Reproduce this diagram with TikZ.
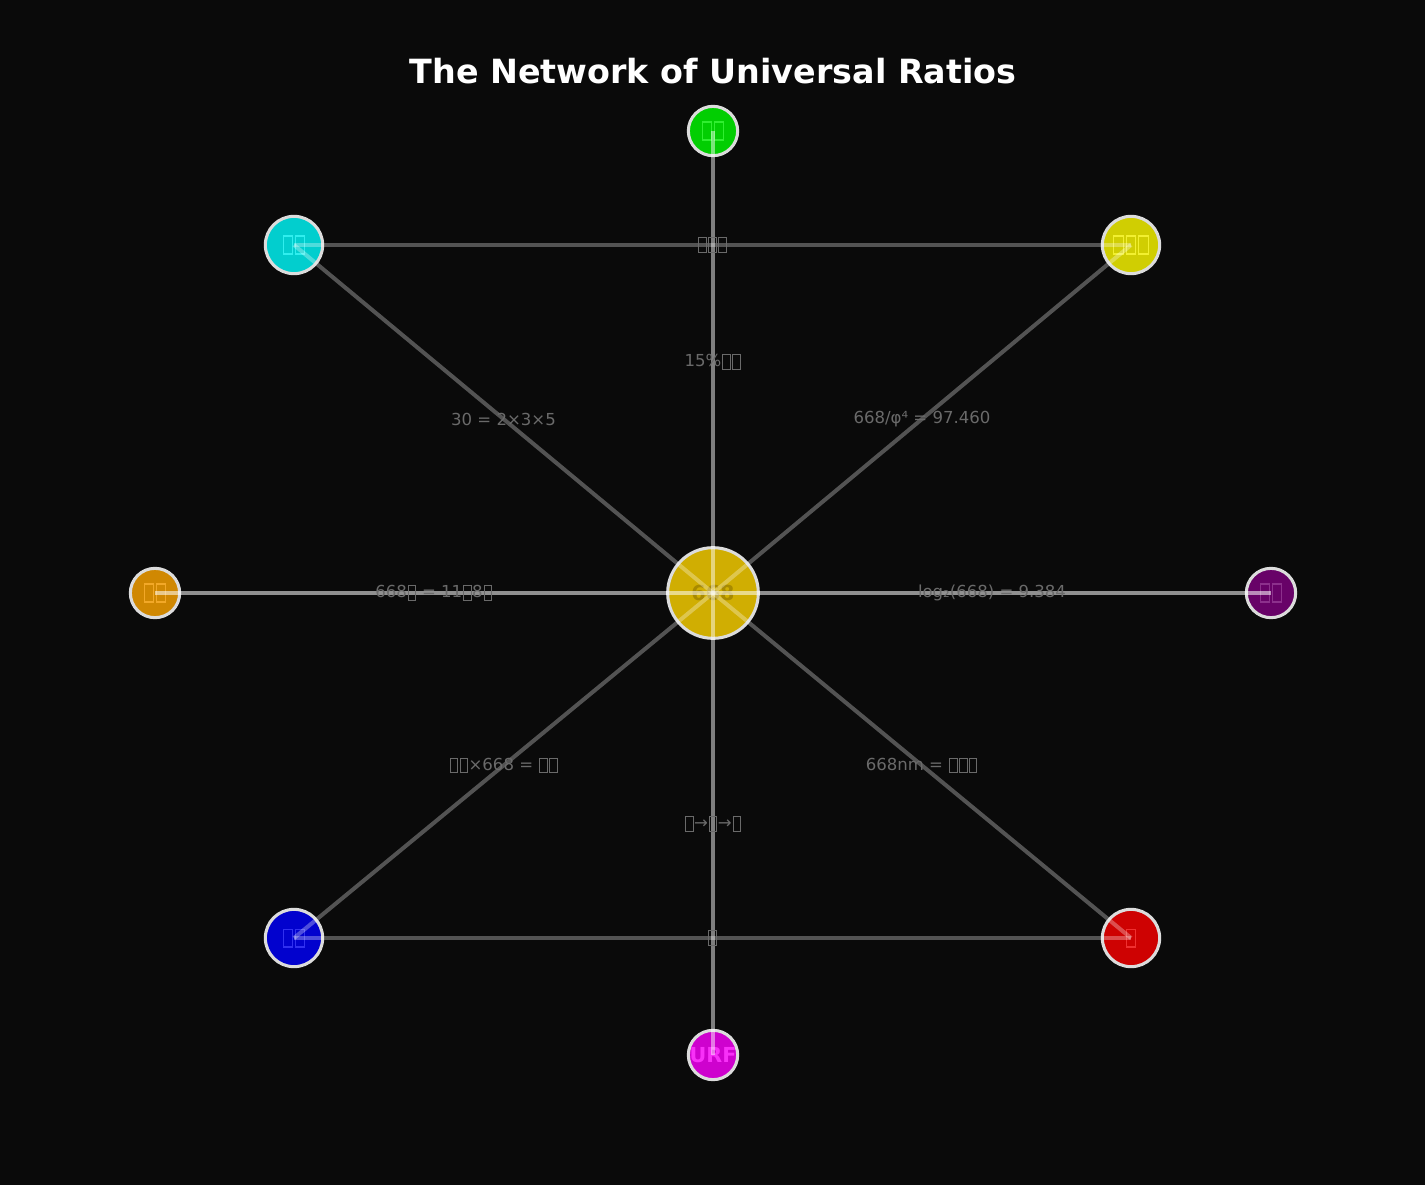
\documentclass[tikz,border=0pt]{standalone}
\usepackage{fontspec}
\setmainfont{DejaVu Sans}
\newcommand\tofu{\makebox[0.6em]{\rule[-0.18em]{0.05em}{0.92em}\rule[-0.18em]{0.4em}{0.05em}\hspace{-0.4em}\rule[0.69em]{0.4em}{0.05em}\rule[-0.18em]{0.05em}{0.92em}}}
\definecolor{bgc}{HTML}{0A0A0A}
\definecolor{ringc}{HTML}{DCDCDC}
\definecolor{elc}{HTML}{6A6A6A}
\definecolor{fgreen}{HTML}{02CE02}\definecolor{tgreen}{HTML}{30EE30}
\definecolor{fcyan}{HTML}{02CECE}\definecolor{tcyan}{HTML}{30EEEE}
\definecolor{fyellow}{HTML}{D0CE02}\definecolor{tyellow}{HTML}{F2F030}
\definecolor{forange}{HTML}{D08802}\definecolor{torange}{HTML}{F2A828}
\definecolor{fpurple}{HTML}{680268}\definecolor{tpurple}{HTML}{8C308C}
\definecolor{fblue}{HTML}{0202CE}\definecolor{tblue}{HTML}{3030F0}
\definecolor{fred}{HTML}{CE0202}\definecolor{tred}{HTML}{F03030}
\definecolor{fmag}{HTML}{CE02CE}\definecolor{tmag}{HTML}{F830F8}
\definecolor{fgold}{HTML}{D0AE02}\definecolor{tgold}{HTML}{A88A00}
\tikzset{
  vnode/.style={circle, draw=ringc, line width=2.3pt, inner sep=0pt,
    font=\bfseries\fontsize{15.5}{18}\selectfont},
  bignode/.style={vnode, minimum size=68pt},
  outerL/.style={vnode, minimum size=43pt},
  outerS/.style={vnode, minimum size=37pt},
  edge/.style={draw=white, line width=3pt, draw opacity=0.30},
  edgemid/.style={draw=white, line width=2.6pt, draw opacity=0.48},
  edgehor/.style={draw=white, line width=3pt, draw opacity=0.55},
  elabel/.style={text=elc, font=\fontsize{12.4}{15}\selectfont, inner sep=0pt},
  titlestyle/.style={text=white, font=\bfseries\fontsize{25}{30}\selectfont}
}
\begin{document}
\begin{tikzpicture}[x=0.75pt,y=-0.75pt]
\fill[bgc] (0,0) rectangle (1425,1185);
\useasboundingbox (0,0) rectangle (1425,1185);
\node[titlestyle] (title) at (713,71) {The Network of Universal Ratios};
% nodes
\node[bignode, fill=fgold, text=tgold] (c) at (713,593) {668};
\node[outerS, fill=fgreen, text=tgreen] (g) at (713,131) {\tofu\tofu};
\node[outerL, fill=fcyan, text=tcyan] (cy) at (294,245) {\tofu\tofu};
\node[outerL, fill=fyellow, text=tyellow] (ye) at (1131,245) {\tofu\tofu\tofu};
\node[outerS, fill=forange, text=torange] (or) at (155,593) {\tofu\tofu};
\node[outerS, fill=fpurple, text=tpurple] (pu) at (1271,593) {\tofu\tofu};
\node[outerL, fill=fblue, text=tblue] (bl) at (294,938) {\tofu\tofu};
\node[outerL, fill=fred, text=tred] (re) at (1131,938) {\tofu};
\node[outerS, fill=fmag, text=tmag] (ur) at (713,1055) {URF};
% edges
\draw[edgemid] (c.center) -- (g.center);
\draw[edgemid] (c.center) -- (ur.center);
\draw[edgehor] (c.center) -- (or.center);
\draw[edgehor] (c.center) -- (pu.center);
\draw[edge] (c.center) -- (cy.center);
\draw[edge] (c.center) -- (ye.center);
\draw[edge] (c.center) -- (bl.center);
\draw[edge] (c.center) -- (re.center);
\draw[edge] (cy.center) -- (ye.center);
\draw[edge] (bl.center) -- (re.center);
% edge labels
\path (c.center) -- (g.center) node[midway, elabel] (l1) {15\%\tofu\tofu};
\path (c.center) -- (ur.center) node[midway, elabel] (l2) {\tofu→\tofu→\tofu};
\path (c.center) -- (or.center) node[midway, elabel] (l3) {668\tofu{} = 11\tofu8\tofu};
\path (c.center) -- (pu.center) node[midway, elabel] (l4) {log₂(668) = 9.384};
\path (c.center) -- (cy.center) node[midway, elabel] (l5) {30 = 2×3×5};
\path (c.center) -- (ye.center) node[midway, elabel] (l6) {668/φ⁴ = 97.460};
\path (c.center) -- (bl.center) node[midway, elabel] (l7) {\tofu\tofu×668 = \tofu\tofu};
\path (c.center) -- (re.center) node[midway, elabel] (l8) {668nm = \tofu\tofu\tofu};
\path (cy.center) -- (ye.center) node[midway, elabel] (l9) {\tofu\tofu\tofu};
\path (bl.center) -- (re.center) node[midway, elabel] (l10) {\tofu};
\end{tikzpicture}
\end{document}
